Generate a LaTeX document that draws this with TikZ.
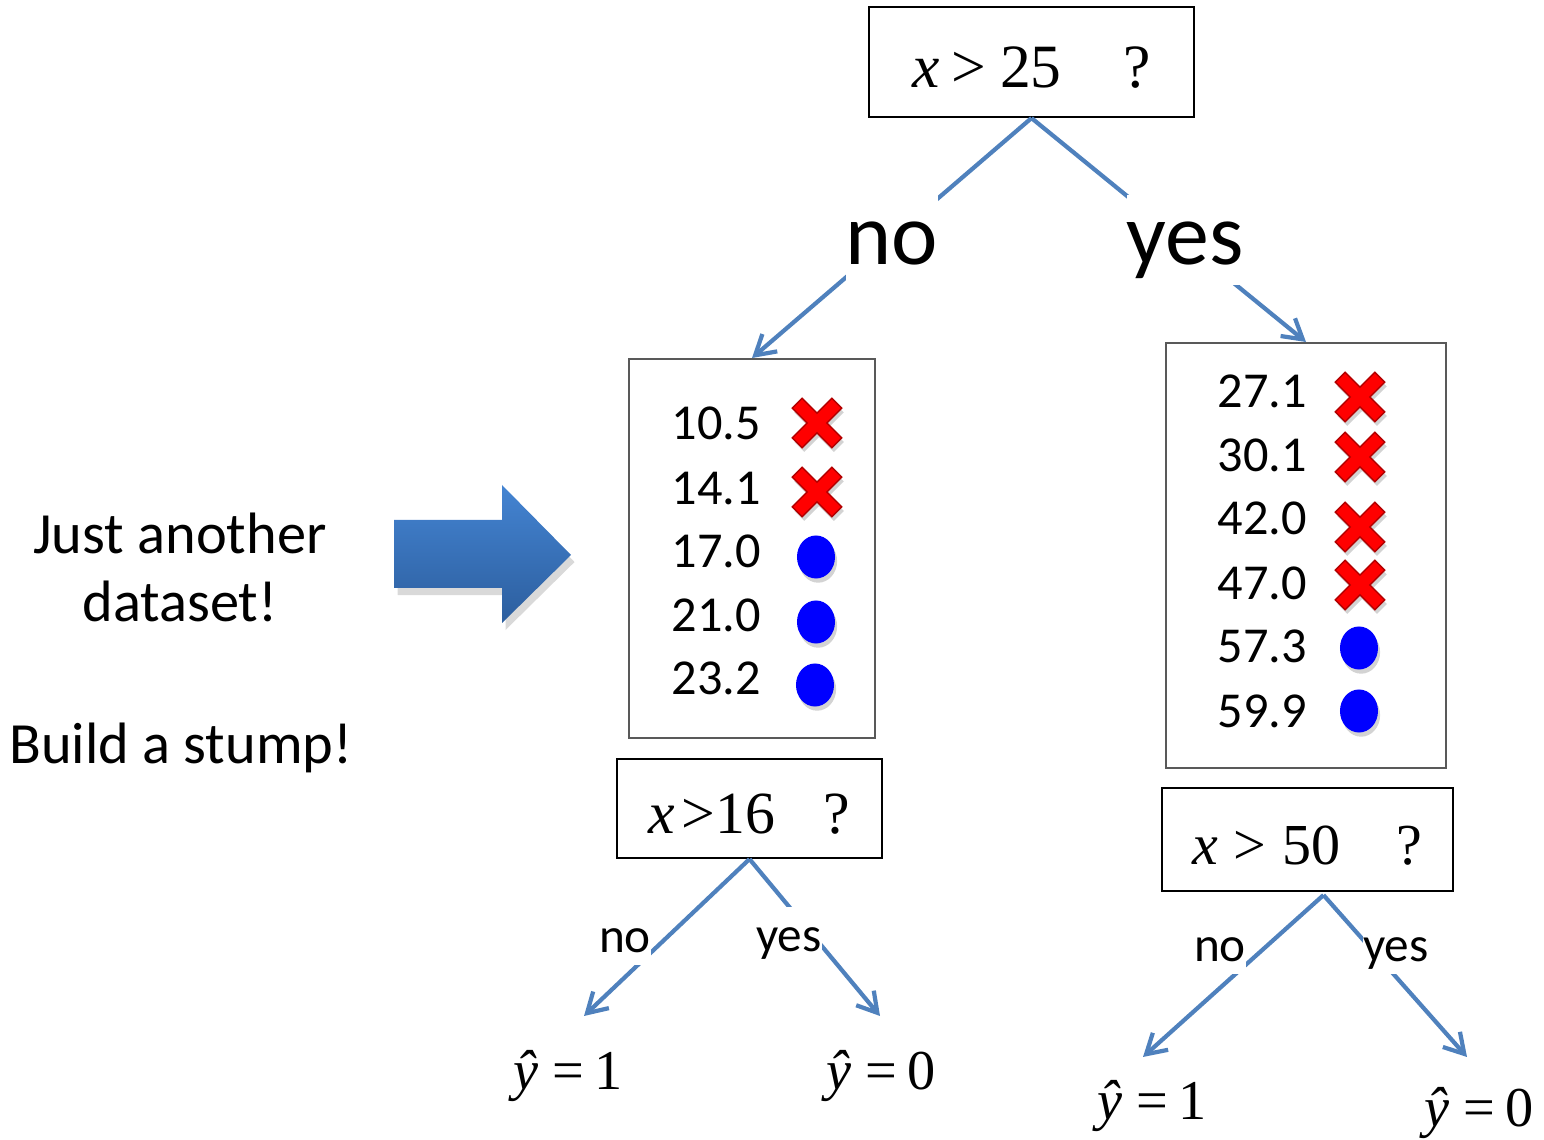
\documentclass[tikz,border=0pt]{standalone}
\usepackage{fontspec}
\setmainfont{Carlito}
\newfontfamily\timesf{Liberation Serif}
\usetikzlibrary{arrows.meta,calc,positioning,shapes.geometric,shadows}
\definecolor{linkblue}{RGB}{79,129,189}
\definecolor{crossred}{RGB}{255,0,0}
\definecolor{dotblue}{RGB}{0,0,255}
\definecolor{arrowtop}{RGB}{68,132,210}
\definecolor{arrowbot}{RGB}{44,94,158}
\tikzset{
  qbox/.style={
    draw,
    line width=.6pt,
    inner sep=0,
    text height=.5cm,
    text depth=0cm,
    font=\timesf
  },
  databox/.style={
    draw=black!65,
    line width=.5pt
  },
  conn/.style={
    -{Straight Barb[length=5.5pt,width=6.5pt]},
    line width=1.2pt,
    linkblue
  },
  biglab/.style={
    fill=white,
    inner sep=0,
    text height=.7cm,
    text depth=.2cm,
    anchor=base,
    font=\fontsize{25}{30}\selectfont
  },
  smalllab/.style={
    fill=white,
    inner sep=0,
    text height=.45cm,
    text depth=.12cm,
    anchor=base,
    font=\fontsize{14}{17}\selectfont
  },
  num/.style={
    anchor=base west,
    inner sep=0,
    font=\fontsize{14.3}{17}\selectfont
  },
  bluedot/.style={
    ellipse,
    fill=dotblue,
    minimum width=.38cm,
    minimum height=.43cm,
    inner sep=0,
    drop shadow={opacity=.35,shadow xshift=.6pt,shadow yshift=-1.2pt}
  },
  sidetext/.style={
    anchor=base,
    inner sep=0,
    font=\fontsize{16.6}{19}\selectfont
  },
  leaf/.style={
    anchor=base west,
    inner sep=0,
    font=\timesf\fontsize{16}{19}\selectfont
  },
  xmark/.pic={
    \path[fill=crossred, draw=crossred!70!black, line width=.4pt,
      drop shadow={opacity=.35,shadow xshift=.6pt,shadow yshift=-1.2pt}, rotate=45]
      (-7,-28) -- (7,-28) -- (7,-7) -- (28,-7) -- (28,7) -- (7,7) -- (7,28)
      -- (-7,28) -- (-7,7) -- (-28,7) -- (-28,-7) -- (-7,-7) -- cycle;
  }
}

\begin{document}
\begin{tikzpicture}[x=.01cm, y=-.01cm]
\useasboundingbox (0,0) rectangle (1544,1140);

% left hand text and big arrow
\node[sidetext] (just) at (180,554) {Just another};
\node[sidetext] (data) at (180,622) {dataset!};
\node[sidetext] (build) at (181,764) {Build a stump!};
\path[shade, top color=arrowtop, bottom color=arrowbot,
  drop shadow={opacity=.3,shadow xshift=1pt,shadow yshift=-2pt}]
  (394,520) -- (502,520) -- (502,485) -- (571,555) -- (502,623) -- (502,588) -- (394,588) -- cycle;

% root question
\node[qbox, minimum width=3.25cm, minimum height=1.1cm, font=\timesf\fontsize{17.5}{20}\selectfont] (q1) at (1031.5,62)
  {{\itshape x}\hspace{.12cm}>\hspace{.14cm}25\hspace{.62cm}?};

% the two data sets
\node[databox, minimum width=2.46cm, minimum height=3.79cm] (lbox) at (752,548.5) {};
\node[databox, minimum width=2.8cm, minimum height=4.25cm] (rbox) at (1306,555.5) {};

\foreach \v/\b [count=\i] in {10.5/440,14.1/505,17.0/568,21.0/632,23.2/695}
  \node[num] (ln\i) at (671,\b) {\v};
\foreach \v/\b [count=\i] in {27.1/408,30.1/472,42.0/535,47.0/600,57.3/663,59.9/728}
  \node[num] (rn\i) at (1217,\b) {\v};

\pic (lx1) at (817,423) {xmark};
\pic (lx2) at (817,492) {xmark};
\node[bluedot] (ld3) at (816,557) {};
\node[bluedot] (ld4) at (816,622) {};
\node[bluedot] (ld5) at (815,685) {};

\pic (rx1) at (1360,397) {xmark};
\pic (rx2) at (1360,457) {xmark};
\pic (rx3) at (1360,527) {xmark};
\pic (rx4) at (1360,585) {xmark};
\node[bluedot] (rd5) at (1359,648) {};
\node[bluedot] (rd6) at (1359,711) {};

\draw[conn] (q1.south) -- (lbox.north);
\draw[conn] (q1.south) -- (rbox.north);
\node[biglab] (no1) at (892,265) {no};
\node[biglab] (yes1) at (1185,265) {yes};

% stumps below
\node[qbox, minimum width=2.65cm, minimum height=.99cm, font=\timesf\fontsize{17}{20}\selectfont] (q2) at (749.5,808.5)
  {{\itshape x}\hspace{.06cm}>\hspace{.01cm}16\hspace{.48cm}?};
\node[qbox, minimum width=2.91cm, minimum height=1.03cm, font=\timesf\fontsize{16.5}{20}\selectfont] (q3) at (1307.5,839.5)
  {{\itshape x}\hspace{.15cm}>\hspace{.16cm}50\hspace{.56cm}?};

\coordinate (q3top) at ($(q3.south)+(16,3)$);
\coordinate (t2l) at (584,1016);
\coordinate (t2r) at (880,1016);
\coordinate (t3l) at (1143,1057);
\coordinate (t3r) at (1467,1057);

\draw[conn] (q2.south) -- (t2l);
\draw[conn] (q2.south) -- (t2r);
\draw[conn] (q3top) -- (t3l);
\draw[conn] (q3top) -- (t3r);

\node[smalllab] (no2) at (625,953) {no};
\node[smalllab] (yes2) at (789,952) {yes};
\node[smalllab] (no3) at (1220,962) {no};
\node[smalllab] (yes3) at (1396,962) {yes};

\node[leaf] (y21) at (513,1090) {{\itshape ŷ}\hspace{.14cm}=\hspace{.1cm}1};
\node[leaf] (y20) at (826,1090) {{\itshape ŷ}\hspace{.14cm}=\hspace{.1cm}0};
\node[leaf] (y31) at (1097,1120) {{\itshape ŷ}\hspace{.14cm}=\hspace{.1cm}1};
\node[leaf] (y30) at (1424,1127) {{\itshape ŷ}\hspace{.14cm}=\hspace{.1cm}0};
\end{tikzpicture}
\end{document}
